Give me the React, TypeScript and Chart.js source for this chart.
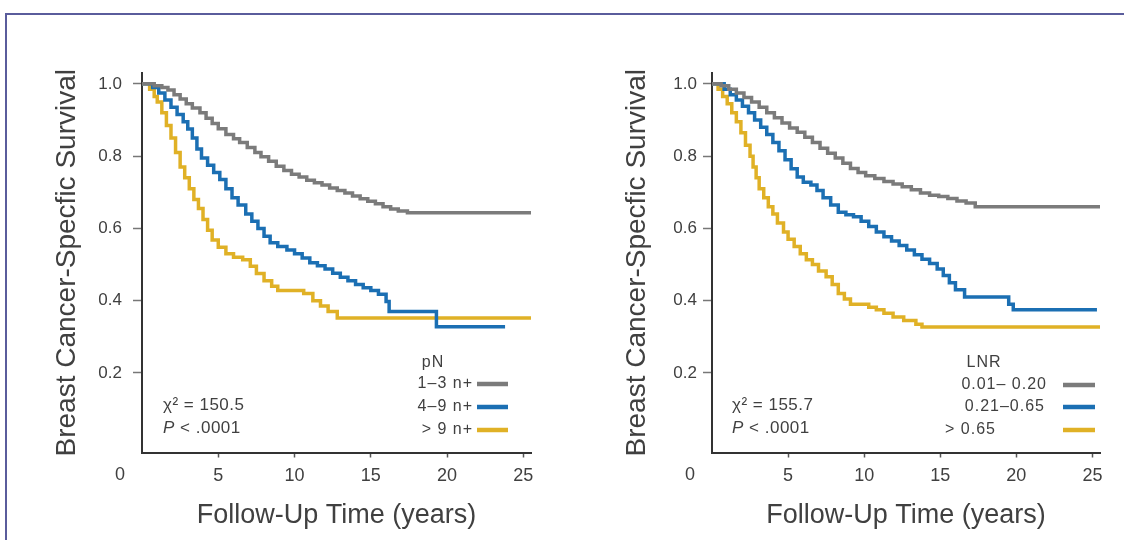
import React, { useEffect, useRef } from "react";
import { Chart, registerables } from "chart.js";

Chart.register(...registerables);

// ---------- data ----------
const xTickValues = [5, 10, 15, 20, 25];
const yTickValues = [0.2, 0.4, 0.6, 0.8, 1.0];

const pnLabels = ["1–3 n+", "4–9 n+", "> 9 n+"];
const lnrLabels = ["0.01– 0.20", "0.21–0.65", "> 0.65"];

// pN panel: [years, survival]
const pnLow: number[][] = [
  [0, 1.0], [0.8, 0.995], [1.3, 0.99], [1.7, 0.983], [2.1, 0.97], [2.5, 0.958], [2.9, 0.945],
  [3.3, 0.933], [3.8, 0.92], [4.2, 0.905], [4.6, 0.89], [5.0, 0.876], [5.5, 0.86], [6.0, 0.848],
  [6.4, 0.838], [6.9, 0.824], [7.4, 0.81], [7.8, 0.798], [8.3, 0.786], [8.8, 0.772], [9.3, 0.76],
  [9.8, 0.75], [10.3, 0.742], [10.8, 0.733], [11.3, 0.726], [11.8, 0.72], [12.3, 0.712],
  [12.8, 0.705], [13.3, 0.698], [13.8, 0.69], [14.3, 0.682], [14.8, 0.675], [15.3, 0.668],
  [15.8, 0.66], [16.3, 0.654], [16.8, 0.648], [17.4, 0.643], [25.6, 0.643],
];
const pnMid: number[][] = [
  [0, 1.0], [0.7, 0.99], [1.1, 0.975], [1.5, 0.955], [1.9, 0.935], [2.3, 0.915], [2.7, 0.895],
  [3.0, 0.875], [3.3, 0.85], [3.6, 0.82], [3.9, 0.795], [4.3, 0.775], [4.7, 0.755], [5.1, 0.735],
  [5.5, 0.71], [5.9, 0.685], [6.3, 0.665], [6.8, 0.64], [7.2, 0.62], [7.6, 0.6], [8.0, 0.578],
  [8.4, 0.56], [8.9, 0.55], [9.5, 0.54], [10.0, 0.53], [10.5, 0.518], [11.0, 0.505],
  [11.5, 0.497], [12.0, 0.488], [12.5, 0.476], [13.0, 0.465], [13.5, 0.455], [14.0, 0.445],
  [14.5, 0.436], [15.0, 0.428], [15.5, 0.418], [16.0, 0.398], [16.2, 0.37], [19.3, 0.328],
  [23.8, 0.328],
];
const pnHigh: number[][] = [
  [0, 1.0], [0.5, 0.985], [0.8, 0.965], [1.0, 0.95], [1.3, 0.92], [1.6, 0.885], [1.9, 0.85],
  [2.2, 0.81], [2.5, 0.77], [2.8, 0.74], [3.1, 0.71], [3.4, 0.68], [3.7, 0.655], [4.0, 0.625],
  [4.3, 0.595], [4.6, 0.568], [5.0, 0.548], [5.5, 0.53], [6.0, 0.52], [6.6, 0.513], [7.1, 0.495],
  [7.5, 0.475], [8.0, 0.455], [8.5, 0.44], [8.9, 0.428], [10.6, 0.42], [11.2, 0.4], [11.7, 0.385],
  [12.2, 0.37], [12.8, 0.352], [25.6, 0.352],
];

// LNR panel: [years, survival]
const lnrLow: number[][] = [
  [0, 1.0], [0.6, 0.995], [1.1, 0.985], [1.6, 0.975], [2.1, 0.962], [2.6, 0.95], [3.1, 0.935],
  [3.6, 0.92], [4.1, 0.906], [4.6, 0.892], [5.1, 0.878], [5.6, 0.866], [6.1, 0.852], [6.6, 0.838],
  [7.1, 0.822], [7.6, 0.808], [8.1, 0.795], [8.6, 0.78], [9.1, 0.766], [9.6, 0.755], [10.1, 0.746],
  [10.7, 0.738], [11.3, 0.73], [11.9, 0.723], [12.5, 0.715], [13.1, 0.707], [13.7, 0.698],
  [14.3, 0.692], [14.9, 0.688], [15.5, 0.683], [16.1, 0.676], [16.7, 0.67], [17.3, 0.66],
  [25.7, 0.66],
];
const lnrMid: number[][] = [
  [0, 1.0], [0.8, 0.985], [1.2, 0.97], [1.6, 0.955], [2.0, 0.938], [2.4, 0.92], [2.8, 0.9],
  [3.2, 0.88], [3.6, 0.86], [4.0, 0.838], [4.4, 0.815], [4.8, 0.79], [5.2, 0.765], [5.6, 0.742],
  [6.0, 0.728], [6.5, 0.72], [6.9, 0.705], [7.3, 0.685], [7.8, 0.665], [8.3, 0.645], [8.8, 0.638],
  [9.3, 0.632], [9.8, 0.62], [10.3, 0.605], [10.8, 0.59], [11.3, 0.577], [11.8, 0.565],
  [12.3, 0.553], [12.8, 0.54], [13.3, 0.527], [13.8, 0.515], [14.3, 0.503], [14.8, 0.488],
  [15.2, 0.47], [15.6, 0.45], [16.0, 0.43], [16.6, 0.41], [19.5, 0.39], [19.8, 0.375],
  [25.3, 0.375],
];
const lnrHigh: number[][] = [
  [0, 1.0], [0.4, 0.985], [0.7, 0.965], [1.0, 0.945], [1.3, 0.92], [1.6, 0.895], [1.9, 0.865],
  [2.2, 0.83], [2.5, 0.8], [2.7, 0.77], [2.9, 0.74], [3.1, 0.71], [3.4, 0.685], [3.7, 0.66],
  [4.0, 0.64], [4.3, 0.615], [4.7, 0.59], [5.0, 0.57], [5.4, 0.55], [5.8, 0.53], [6.2, 0.513],
  [6.6, 0.5], [7.0, 0.482], [7.5, 0.466], [7.9, 0.445], [8.3, 0.42], [8.7, 0.405], [9.1, 0.39],
  [10.3, 0.382], [10.8, 0.375], [11.3, 0.365], [11.9, 0.355], [12.6, 0.345], [13.4, 0.335],
  [13.8, 0.327], [25.7, 0.327],
];

const pnStats = ["150.5", ".0001"];
const lnrStats = ["155.7", ".0001"];

// ---------- styles ----------
const COLORS = ["#7b7b7b", "#1b6fb3", "#e0b126"];
const FONT = "'Liberation Sans', Arial, sans-serif";
const TEXT = "#404040";

type Panel = {
  left: number;
  series: number[][][];
  labels: string[];
  legendTitle: string;
  stats: string[];
  padLeft: number;
  padRight: number;
  yTitlePad: number;
  yTickPad: number;
  legend: { titleX: number; rowsY: number[]; labelX: number[]; labelAlign: CanvasTextAlign[]; lineX0: number; lineX1: number };
  statsX: number;
  zeroX: number;
};

const kmExtras = {
  id: "kmExtras",
  afterDraw(chart: any, _args: any, opts: any) {
    const p: Panel = opts.panel;
    if (!p) return;
    const ctx = chart.ctx as any;
    ctx.save();
    ctx.fillStyle = TEXT;
    // origin label
    ctx.font = `18px ${FONT}`;
    ctx.textAlign = "center";
    ctx.textBaseline = "middle";
    ctx.fillText("0", p.zeroX, 475);
    // legend
    ctx.font = `16px ${FONT}`;
    ctx.letterSpacing = "1px";
    ctx.fillText(p.legendTitle, p.legend.titleX, 363);
    p.labels.forEach((lab, i) => {
      const y = p.legend.rowsY[i];
      ctx.fillStyle = TEXT;
      ctx.textAlign = p.legend.labelAlign[i];
      ctx.fillText(lab, p.legend.labelX[i], y);
      ctx.strokeStyle = chart.data.datasets[i].borderColor;
      ctx.lineWidth = 4.5;
      ctx.beginPath();
      ctx.moveTo(p.legend.lineX0, y);
      ctx.lineTo(p.legend.lineX1, y);
      ctx.stroke();
    });
    // stats
    ctx.fillStyle = TEXT;
    ctx.textAlign = "left";
    ctx.letterSpacing = "0.5px";
    ctx.font = `17px ${FONT}`;
    ctx.fillText(`χ² = ${p.stats[0]}`, p.statsX, 405);
    ctx.font = `italic 17px ${FONT}`;
    ctx.fillText("P", p.statsX, 428);
    const w = ctx.measureText("P").width;
    ctx.font = `17px ${FONT}`;
    ctx.fillText(` < ${p.stats[1]}`, p.statsX + w, 428);
    ctx.letterSpacing = "0px";
    ctx.restore();
  },
};

function KMPanel({ panel }: { panel: Panel }) {
  const ref = useRef<HTMLCanvasElement | null>(null);
  useEffect(() => {
    if (!ref.current) return;
    const chart = new Chart(ref.current, {
      type: "line",
      data: {
        datasets: panel.series.map((pts, i) => ({
          label: panel.labels[i],
          data: pts.map(([x, y]) => ({ x, y })),
          borderColor: COLORS[i],
          borderWidth: 3.5,
          stepped: true,
          pointRadius: 0,
          fill: false,
        })),
      },
      options: {
        responsive: false,
        animation: false,
        layout: { padding: { left: panel.padLeft, right: panel.padRight, top: 73, bottom: 0 } },
        plugins: {
          legend: { display: false },
          tooltip: { enabled: false },
          kmExtras: { panel },
        } as any,
        scales: {
          x: {
            type: "linear",
            min: 0,
            max: 25.5,
            afterFit: (s: any) => {
              s.height = 87.5;
            },
            afterBuildTicks: (s: any) => {
              s.ticks = xTickValues.map((v) => ({ value: v }));
            },
            ticks: {
              color: TEXT,
              font: { family: FONT, size: 18 },
              padding: 8,
              maxRotation: 0,
              callback: (v: any) => String(v),
            },
            grid: { drawOnChartArea: false, drawTicks: true, tickLength: 5, tickColor: "#555", tickWidth: 1.5 },
            border: { display: true, color: "#333", width: 2 },
            title: {
              display: true,
              text: "Follow-Up Time (years)",
              color: TEXT,
              font: { family: FONT, size: 27 },
              padding: { top: 0, bottom: 8 },
            },
          },
          y: {
            type: "linear",
            min: -0.02,
            max: 1.03,
            afterFit: (s: any) => {
              s.width = 122;
            },
            afterBuildTicks: (s: any) => {
              s.ticks = yTickValues.map((v) => ({ value: v }));
            },
            ticks: {
              color: TEXT,
              font: { family: FONT, size: 17 },
              padding: panel.yTickPad,
              callback: (v: any) => Number(v).toFixed(1),
            },
            grid: { drawOnChartArea: false, drawTicks: true, tickLength: 9, tickColor: "#777", tickWidth: 1.5 },
            border: { display: true, color: "#333", width: 2 },
            title: {
              display: true,
              text: "Breast Cancer-Specfic Survival",
              color: TEXT,
              font: { family: FONT, size: 28 },
              padding: { top: panel.yTitlePad, bottom: 0 },
            },
          },
        },
      },
      plugins: [kmExtras],
    } as any);
    return () => chart.destroy();
  }, [panel]);
  return (
    <canvas
      ref={ref}
      width={562}
      height={540}
      style={{ position: "absolute", left: panel.left, top: 0, width: 562, height: 540 }}
    />
  );
}

const leftPanel: Panel = {
  left: 0,
  series: [pnLow, pnMid, pnHigh],
  labels: pnLabels,
  legendTitle: "pN",
  stats: pnStats,
  padLeft: 20,
  padRight: 31,
  yTitlePad: 30,
  yTickPad: 11,
  legend: { titleX: 433, rowsY: [384, 407, 430], labelX: [473, 473, 473], labelAlign: ["right", "right", "right"], lineX0: 477, lineX1: 508 },
  statsX: 163,
  zeroX: 120,
};

const rightPanel: Panel = {
  left: 562,
  series: [lnrLow, lnrMid, lnrHigh],
  labels: lnrLabels,
  legendTitle: "LNR",
  stats: lnrStats,
  padLeft: 28,
  padRight: 24,
  yTitlePad: 30,
  yTickPad: 6,
  legend: { titleX: 422, rowsY: [385, 407, 430], labelX: [485, 483, 383], labelAlign: ["right", "right", "left"], lineX0: 501, lineX1: 533 },
  statsX: 170,
  zeroX: 128,
};

export default function App() {
  return (
    <div style={{ position: "fixed", left: 0, top: 0, width: 1124, height: 540, background: "#fff", overflow: "hidden" }}>
      <div
        style={{
          position: "absolute",
          left: 5,
          top: 13,
          width: 1200,
          height: 600,
          borderTop: "2px solid #5a5c9c",
          borderLeft: "2px solid #5a5c9c",
        }}
      />
      <KMPanel panel={leftPanel} />
      <KMPanel panel={rightPanel} />
    </div>
  );
}
